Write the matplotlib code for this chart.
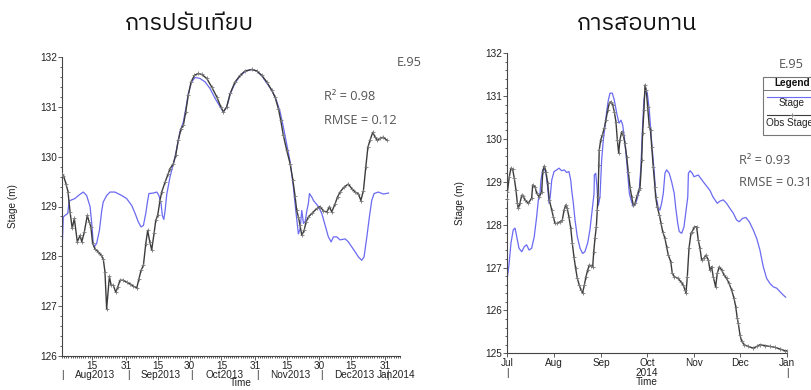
import numpy as np
import pandas as pd
import matplotlib
matplotlib.use("Agg")
import matplotlib.pyplot as plt
import matplotlib.dates as mdates
from matplotlib import font_manager
from matplotlib.ticker import MultipleLocator, FixedLocator, FixedFormatter, NullFormatter
from matplotlib.lines import Line2D
from matplotlib.patches import Rectangle

# ---------------- data ----------------
titles = ["การปรับเทียบ", "การสอบทาน"]
station = "E.95"
cal_r2, cal_rmse = 0.98, 0.12
val_r2, val_rmse = 0.93, 0.31

# calibration period (days after 2013-08-01)
cal_start = "2013-08-01"
cal_obs_day = [0.0, 0.7, 1.9, 2.8, 3.8, 4.8, 5.8, 7.2, 8.5, 9.3, 10.5, 11.9, 12.8, 13.6, 14.4,
               15.5, 17.1, 18.4, 19.4, 20.2, 21.0, 22.3, 23.1, 24.1, 25.3, 26.2, 27.3, 28.8, 30.4,
               32.0, 33.6, 35.2, 36.2, 37.2, 38.3, 39.4, 40.3, 41.3, 42.2, 43.3, 44.1, 45.0, 46.1,
               46.9, 48.5, 49.9, 50.8, 52.4, 53.5, 54.7, 56.0, 57.1, 58.2, 59.4, 60.7, 62.3, 64.1,
               65.7, 68.1, 70.4, 72.8, 74.7, 75.9, 77.5, 79.1, 81.4, 83.8, 86.1, 89.3, 91.6, 94.0,
               96.3, 98.7, 100.2, 101.8, 102.9, 104.1, 105.7, 107.3, 108.6, 109.6, 110.4, 111.2,
               112.0, 112.8, 113.9, 114.8, 115.9, 117.5, 119.9, 121.4, 123.0, 124.6, 125.8, 126.9,
               128.5, 129.6, 130.8, 132.7, 134.7, 136.3, 137.9, 139.4, 140.6, 141.8, 142.9, 143.9,
               144.9, 146.2, 147.3, 148.4, 149.6, 151.2, 152.8]
cal_obs_stage = [129.65, 129.62, 129.45, 129.30, 128.89, 128.56, 128.76, 128.29, 128.42, 128.29,
                 128.49, 128.82, 128.69, 128.59, 128.26, 128.15, 128.09, 128.02, 127.95, 127.69,
                 126.95, 127.60, 127.42, 127.42, 127.28, 127.38, 127.52, 127.52, 127.48, 127.45,
                 127.40, 127.37, 127.55, 127.72, 127.82, 128.25, 128.52, 128.29, 128.13, 128.46,
                 128.72, 128.82, 129.12, 129.29, 129.49, 129.65, 129.76, 129.86, 130.03, 130.33,
                 130.56, 130.63, 130.90, 131.23, 131.50, 131.63, 131.67, 131.65, 131.57, 131.40,
                 131.20, 131.00, 130.90, 131.00, 131.27, 131.50, 131.63, 131.72, 131.75, 131.72,
                 131.63, 131.50, 131.33, 131.20, 130.96, 130.73, 130.43, 130.13, 129.86, 129.53,
                 129.22, 128.92, 128.79, 128.62, 128.42, 128.52, 128.69, 128.79, 128.86, 128.96,
                 129.00, 128.91, 128.89, 129.00, 128.89, 129.06, 129.19, 129.29, 129.39, 129.45,
                 129.36, 129.29, 129.26, 129.12, 129.32, 129.79, 130.19, 130.33, 130.49, 130.39,
                 130.33, 130.37, 130.39, 130.33]
cal_sim_day = [0.0, 0.6, 1.4, 2.7, 3.3, 3.8, 6.1, 7.7, 10.0, 11.6, 13.2, 14.0, 14.7, 15.2, 16.3,
               17.6, 18.7, 19.4, 21.0, 22.6, 24.9, 28.1, 30.4, 32.8, 34.4, 35.9, 37.2, 38.3, 39.4,
               40.3, 40.9, 43.0, 44.6, 45.6, 46.6, 47.2, 47.9, 48.5, 49.3, 50.8, 53.2, 55.5, 57.1,
               58.4, 59.4, 61.0, 62.6, 64.9, 67.3, 69.6, 72.0, 74.4, 75.9, 77.5, 79.1, 81.4, 83.8,
               86.1, 89.3, 91.6, 94.0, 96.3, 98.7, 100.7, 102.6, 104.1, 105.7, 107.3, 108.7, 109.9,
               111.2, 112.0, 112.8, 113.6, 114.4, 115.2, 115.9, 116.4, 117.5, 118.3, 120.6, 122.2,
               123.8, 125.3, 126.6, 127.7, 129.3, 130.8, 133.2, 134.7, 136.3, 137.9, 139.4, 141.0,
               142.1, 143.4, 144.6, 145.7, 146.8, 148.8, 151.2, 153.6]
cal_sim_stage = [128.05, 128.79, 128.82, 128.86, 129.09, 129.12, 129.16, 129.22, 129.29, 129.22,
                 129.00, 128.66, 128.26, 128.19, 128.26, 128.52, 128.92, 129.09, 129.22, 129.29,
                 129.29, 129.22, 129.16, 129.02, 128.86, 128.69, 128.59, 128.62, 128.86, 129.12,
                 129.26, 129.27, 129.29, 129.22, 129.06, 128.82, 128.74, 128.92, 129.25, 129.59,
                 130.00, 130.50, 130.70, 131.00, 131.27, 131.50, 131.59, 131.57, 131.50, 131.37,
                 131.17, 131.00, 130.90, 131.00, 131.25, 131.48, 131.62, 131.71, 131.75, 131.72,
                 131.62, 131.48, 131.33, 131.15, 130.90, 130.60, 130.25, 129.90, 129.45, 128.95,
                 128.45, 128.55, 128.92, 128.66, 128.70, 128.92, 129.06, 129.26, 129.19, 129.12,
                 129.00, 128.86, 128.62, 128.39, 128.29, 128.39, 128.39, 128.33, 128.35, 128.29,
                 128.19, 128.09, 127.99, 127.92, 127.99, 128.39, 128.79, 129.12, 129.26, 129.29,
                 129.25, 129.27]

# validation period (days after 2014-07-01)
val_start = "2014-07-01"
val_obs_day = [0.0, 0.3, 1.5, 2.6, 3.7, 4.8, 5.9, 6.8, 7.4, 8.5, 9.7, 10.7, 11.8, 14.0, 16.2, 16.9,
               18.4, 19.5, 21.2, 22.8, 23.5, 24.5, 25.6, 26.7, 27.8, 29.4, 30.4, 31.5, 33.0, 34.8,
               36.3, 37.5, 38.6, 39.6, 40.7, 41.9, 42.9, 44.0, 45.1, 46.2, 47.5, 48.6, 49.7, 50.8,
               51.9, 53.0, 54.1, 55.2, 56.3, 57.0, 57.8, 58.7, 59.3, 59.8, 60.3, 60.6, 61.6, 62.6,
               63.9, 65.0, 66.2, 67.2, 68.3, 69.5, 70.5, 71.6, 72.5, 73.4, 74.2, 75.4, 76.4, 77.5,
               78.6, 79.7, 80.8, 81.9, 83.0, 84.1, 85.6, 86.7, 87.4, 88.5, 89.1, 90.0, 90.7, 91.5,
               92.4, 93.5, 94.3, 95.1, 96.1, 97.2, 97.7, 98.7, 100.1, 101.2, 102.3, 103.8, 104.9,
               106.0, 107.6, 108.6, 109.9, 112.2, 114.3, 115.8, 117.0, 117.6, 118.5, 119.6, 120.9,
               121.7, 123.1, 124.6, 125.7, 126.8, 127.9, 129.4, 130.7, 132.3, 133.4, 134.5, 135.5,
               137.1, 138.2, 139.5, 141.1, 142.6, 144.3, 145.9, 147.6, 149.2, 150.3, 151.3, 152.0,
               153.1, 154.2, 155.9, 158.5, 161.8, 164.1, 166.2, 169.5, 172.8, 176.1, 179.4, 182.7,
               183.8]
val_obs_stage = [128.60, 128.77, 129.12, 129.32, 129.30, 129.08, 128.81, 128.50, 128.38, 128.50,
                 128.69, 128.66, 128.58, 128.50, 128.62, 128.93, 128.89, 128.73, 128.65, 128.77,
                 129.24, 129.37, 129.24, 128.97, 128.58, 128.34, 128.18, 128.03, 128.03, 128.07,
                 128.10, 128.34, 128.46, 128.38, 128.18, 127.92, 127.57, 127.25, 126.98, 126.75,
                 126.59, 126.48, 126.41, 126.59, 126.79, 126.94, 127.06, 127.04, 127.02, 127.37,
                 127.68, 127.95, 128.34, 128.65, 129.39, 129.74, 129.98, 130.09, 130.25, 130.44,
                 130.68, 130.83, 130.87, 130.79, 130.64, 130.40, 129.98, 129.67, 129.98, 130.17,
                 130.09, 129.90, 129.59, 129.24, 128.89, 128.65, 128.46, 128.50, 128.69, 128.81,
                 128.85, 129.51, 130.13, 130.68, 131.26, 131.14, 130.75, 130.29, 130.20, 129.82,
                 129.35, 128.89, 128.65, 128.42, 128.23, 128.03, 127.84, 127.68, 127.49, 127.29,
                 127.14, 126.87, 126.79, 126.75, 126.67, 126.59, 126.48, 126.40, 126.79, 127.45,
                 127.80, 127.84, 127.95, 127.95, 127.64, 127.45, 127.18, 127.22, 127.29, 127.18,
                 126.94, 127.02, 126.79, 126.55, 126.87, 127.02, 126.94, 126.83, 126.75, 126.63,
                 126.48, 126.28, 126.09, 125.82, 125.70, 125.43, 125.28, 125.20, 125.16, 125.12,
                 125.16, 125.20, 125.18, 125.16, 125.14, 125.10, 125.06, 125.06]
val_sim_day = [0.0, 1.3, 2.6, 4.1, 5.3, 6.4, 7.9, 9.7, 11.4, 12.9, 14.5, 16.2, 17.9, 19.5, 20.6,
               21.7, 22.3, 23.5, 24.5, 25.6, 26.7, 27.6, 28.4, 29.4, 30.9, 32.7, 34.2, 35.9, 37.6,
               39.2, 40.7, 41.9, 42.5, 43.6, 44.7, 46.2, 48.0, 49.7, 51.2, 53.0, 54.5, 56.0, 57.2,
               57.4, 58.3, 59.1, 59.6, 60.0, 61.1, 62.2, 63.3, 64.4, 65.5, 66.6, 67.7, 69.2, 70.5,
               72.1, 73.6, 74.9, 76.0, 77.1, 78.2, 79.3, 80.4, 81.5, 83.0, 84.6, 85.9, 86.9, 88.0,
               89.1, 90.0, 91.1, 92.2, 93.5, 94.6, 95.7, 96.8, 97.7, 98.4, 99.5, 100.5, 101.6, 102.7,
               103.8, 104.9, 106.6, 108.2, 109.9, 110.8, 112.2, 113.2, 114.8, 116.3, 117.7, 118.8,
               119.2, 120.3, 121.8, 122.9, 125.7, 129.0, 131.2, 133.4, 135.3, 138.2, 139.9, 142.1,
               144.3, 146.5, 148.7, 150.9, 152.6, 154.9, 157.0, 159.2, 161.8, 164.1, 166.2, 168.4,
               170.6, 172.8, 175.0, 177.2, 179.4, 181.5, 183.1]
val_sim_stage = [126.71, 127.06, 127.57, 127.88, 127.92, 127.72, 127.45, 127.37, 127.49, 127.53,
                 127.41, 127.45, 127.72, 128.19, 128.58, 128.73, 129.04, 129.28, 129.32, 129.20,
                 128.89, 128.50, 128.65, 129.04, 129.24, 129.28, 129.32, 129.26, 129.28, 129.22,
                 129.24, 129.04, 128.81, 128.50, 128.11, 127.72, 127.45, 127.33, 127.37, 127.57,
                 127.88, 128.34, 128.73, 129.16, 129.20, 128.89, 128.58, 128.45, 128.65, 129.51,
                 129.98, 130.29, 130.64, 130.91, 131.07, 131.07, 130.91, 130.60, 130.37, 130.44,
                 130.33, 130.05, 129.67, 129.20, 128.73, 128.58, 128.42, 128.50, 128.65, 128.81,
                 129.35, 130.29, 130.91, 131.18, 131.07, 130.68, 130.13, 129.67, 129.20, 128.73,
                 128.58, 128.38, 128.34, 128.50, 128.73, 129.20, 129.28, 129.20, 129.00, 128.73,
                 128.42, 128.03, 127.84, 127.80, 127.95, 128.34, 128.65, 129.20, 129.26, 129.20,
                 129.12, 129.16, 129.00, 128.90, 128.80, 128.65, 128.50, 128.55, 128.58, 128.50,
                 128.38, 128.27, 128.11, 128.07, 128.15, 128.17, 128.07, 127.88, 127.68, 127.41,
                 127.02, 126.75, 126.63, 126.55, 126.52, 126.44, 126.36, 126.31]

cal_ticks = ["2013-08-15", "2013-08-31", "2013-09-15", "2013-09-30", "2013-10-15",
             "2013-10-31", "2013-11-15", "2013-11-30", "2013-12-15", "2013-12-31"]
cal_months = ["Aug2013", "Sep2013", "Oct2013", "Nov2013", "Dec2013"]
val_months = ["Jul", "Aug", "Sep", "Oct", "Nov", "Dec", "Jan"]


# ---------------- fonts ----------------
def find_thai_family():
    try:
        from fontTools.ttLib import TTFont
    except Exception:
        return None
    preferred = []
    others = []
    for fe in font_manager.fontManager.ttflist:
        try:
            kw = {"fontNumber": 0} if fe.fname.lower().endswith((".ttc", ".otc")) else {}
            f = TTFont(fe.fname, lazy=True, **kw)
            cmap = f.getBestCmap()
            if cmap and 0x0E01 in cmap and 0x0E31 in cmap:
                if "thai" in fe.name.lower():
                    preferred.append(fe.name)
                else:
                    others.append(fe.name)
        except Exception:
            continue
    cands = preferred + others
    return cands[0] if cands else None


thai = find_thai_family()
title_family = [thai, "DejaVu Sans"] if thai else ["DejaVu Sans"]
SANS = "Liberation Sans"
NOTE = "Open Sans"

plt.rcParams["font.family"] = SANS
W, H = 811, 390
fig = plt.figure(figsize=(W / 100, H / 100), dpi=100)
fig.patch.set_facecolor("white")

AX_COL = "#444444"
SIM_COL = "#6a6af2"
OBS_COL = "#3c3c3c"
OBS_MK = "#7a7a7a"
TXT = "#222222"
FS = 7.2


def px_box(x0, y_top, x1, y_bot):
    return [x0 / W, 1 - y_bot / H, (x1 - x0) / W, (y_bot - y_top) / H]


def to_dates(start, days):
    return pd.Timestamp(start) + pd.to_timedelta(np.asarray(days), unit="D")


def style_axes(ax):
    for s in ("top", "right"):
        ax.spines[s].set_visible(False)
    for s in ("left", "bottom"):
        ax.spines[s].set_color(AX_COL)
        ax.spines[s].set_linewidth(0.8)
    ax.tick_params(which="both", colors=AX_COL, labelcolor=TXT, labelsize=FS, width=0.6)
    ax.tick_params(which="major", length=2.6, pad=0.8)
    ax.tick_params(which="minor", length=1.5)
    ax.yaxis.set_major_locator(MultipleLocator(1))
    ax.yaxis.set_minor_locator(MultipleLocator(0.2))
    ax.set_ylabel("Stage (m)", fontsize=FS, color=TXT)


def draw_series(ax, sd, sv, od, ov):
    ax.plot(sd, sv, color=SIM_COL, lw=0.9, zorder=2)
    ax.plot(od, ov, color=OBS_COL, lw=1.0, marker="+", ms=2.6, mew=0.6,
            mec=OBS_MK, zorder=3)


def bottom_note(ax, x, text, dy_px, **kw):
    ax.annotate(text, xy=(x, 0), xycoords=("data", "axes fraction"),
                xytext=(0, -dy_px * 0.72), textcoords="offset points",
                ha="center", va="center", fontsize=FS, color=TXT,
                annotation_clip=False, **kw)


# ---------------- calibration panel ----------------
ax1 = fig.add_axes(px_box(62, 57, 400, 356))
style_axes(ax1)
draw_series(ax1, to_dates(cal_start, cal_sim_day), cal_sim_stage,
            to_dates(cal_start, cal_obs_day), cal_obs_stage)
ax1.set_xlim(pd.Timestamp("2013-08-01"), pd.Timestamp("2014-01-07"))
ax1.set_ylim(126, 132)
ax1.xaxis.set_major_locator(FixedLocator(mdates.date2num(pd.to_datetime(cal_ticks))))
ax1.xaxis.set_major_formatter(FixedFormatter([str(pd.Timestamp(t).day) for t in cal_ticks]))
ax1.xaxis.set_minor_locator(mdates.DayLocator())
ax1.xaxis.set_minor_formatter(NullFormatter())
for i, m in enumerate(cal_months):
    start = pd.Timestamp("2013-08-01") + pd.DateOffset(months=i)
    bottom_note(ax1, start, "|", 18.5)
    bottom_note(ax1, start + pd.Timedelta(days=15.5), m, 18.5)
bottom_note(ax1, pd.Timestamp("2014-01-01"), "|", 18.5)
bottom_note(ax1, pd.Timestamp("2014-01-05"), "Jan2014", 18.5)
bottom_note(ax1, pd.Timestamp("2013-10-24"), "Time", 27.5)
ax1.yaxis.set_label_coords(-0.13, 0.5)

# ---------------- validation panel ----------------
ax2 = fig.add_axes(px_box(507, 53.3, 787, 353.3))
style_axes(ax2)
draw_series(ax2, to_dates(val_start, val_sim_day), val_sim_stage,
            to_dates(val_start, val_obs_day), val_obs_stage)
ax2.set_xlim(pd.Timestamp("2014-07-01"), pd.Timestamp("2015-01-01"))
ax2.set_ylim(125, 132)
ax2.xaxis.set_major_locator(mdates.MonthLocator())
ax2.xaxis.set_major_formatter(FixedFormatter(val_months))
bottom_note(ax2, pd.Timestamp("2014-07-01"), "|", 20)
bottom_note(ax2, pd.Timestamp("2015-01-01"), "|", 20)
bottom_note(ax2, pd.Timestamp("2014-10-01"), "2014", 19.5)
bottom_note(ax2, pd.Timestamp("2014-10-01"), "Time", 28.5)
ax2.yaxis.set_label_coords(-0.15, 0.5)

# ---------------- titles & annotations ----------------
fig.text(189 / W, 1 - 24 / H, titles[0], ha="center", va="center", fontsize=16.8,
         family=title_family, color="#111111")
fig.text(637 / W, 1 - 24 / H, titles[1], ha="center", va="center", fontsize=16.8,
         family=title_family, color="#111111")

note_kw = dict(fontsize=9.2, color="#555555", family=NOTE, va="center", ha="left")
fig.text(397 / W, 1 - 63 / H, station, **note_kw)
fig.text(324 / W, 1 - 97 / H, f"R² = {cal_r2:.2f}", **note_kw)
fig.text(324 / W, 1 - 121 / H, f"RMSE = {cal_rmse:.2f}", **note_kw)
fig.text(779 / W, 1 - 64 / H, station, **note_kw)
fig.text(739 / W, 1 - 161 / H, f"R² = {val_r2:.2f}", **note_kw)
fig.text(739 / W, 1 - 183 / H, f"RMSE = {val_rmse:.2f}", **note_kw)

# legend box (runs past the right edge of the figure)
fig.add_artist(Rectangle((763 / W, 1 - 135 / H), 60 / W, 58 / H, transform=fig.transFigure,
                         facecolor="white", edgecolor="#777777", lw=0.8, clip_on=False))
fig.add_artist(Line2D([763 / W, 1.0], [1 - 90 / H] * 2, transform=fig.transFigure,
                      color="#777777", lw=0.7))
fig.text(792 / W, 1 - 83.5 / H, "Legend", fontsize=FS, weight="bold", ha="center",
         va="center", color="#111111")
fig.add_artist(Line2D([767 / W, 1.0], [1 - 96.5 / H] * 2, transform=fig.transFigure,
                      color=SIM_COL, lw=0.8))
fig.text(792 / W, 1 - 103 / H, "Stage", fontsize=FS, ha="center", va="center", color=TXT)
fig.add_artist(Line2D([767 / W, 1.0], [1 - 115 / H] * 2, transform=fig.transFigure,
                      color=OBS_COL, lw=0.8))
fig.add_artist(Line2D([792 / W], [1 - 115 / H], transform=fig.transFigure, marker="+",
                      ms=2.6, mew=0.6, color=OBS_MK, lw=0))
fig.text(790 / W, 1 - 123 / H, "Obs Stage", fontsize=FS, ha="center", va="center",
         color=TXT)

fig.savefig("out.png", dpi=100, facecolor="white")
